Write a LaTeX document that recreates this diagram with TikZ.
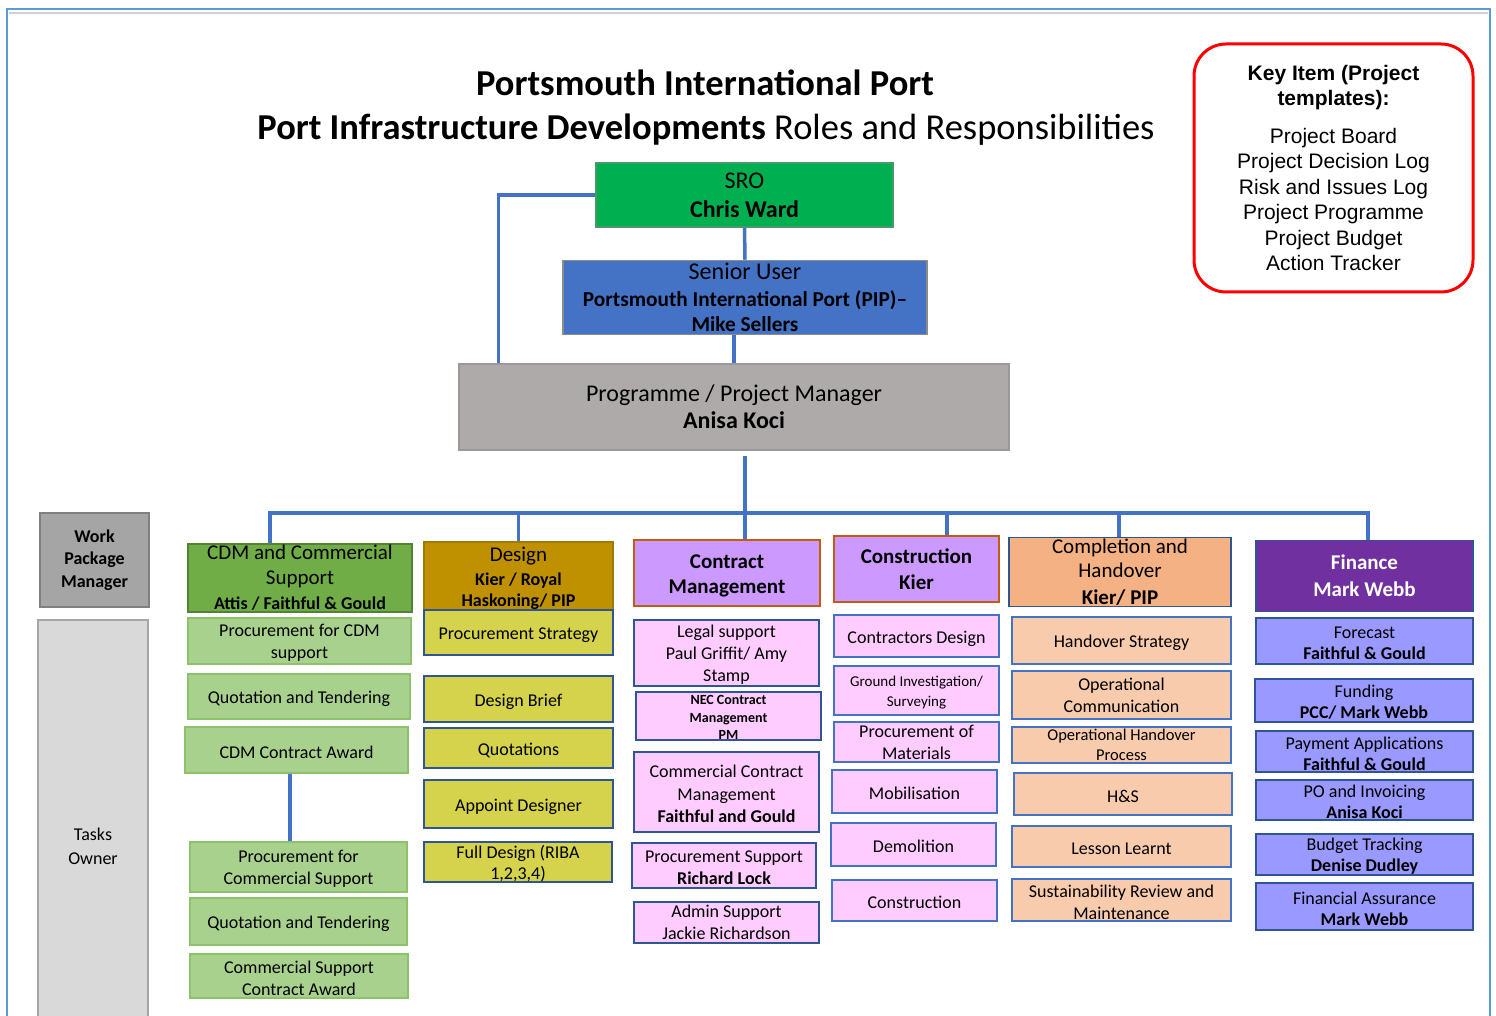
\documentclass[tikz,border=0pt]{standalone}
\usepackage{fontspec}
\setmainfont{Carlito}
\newfontfamily\keyfont{Liberation Sans}
\usepackage{tikz}

\definecolor{linkblue}{HTML}{4472C4}
\definecolor{frameblue}{HTML}{5B9BD5}
\definecolor{darkblue}{HTML}{2F5597}
\definecolor{srogreen}{HTML}{00B050}
\definecolor{pmgrey}{HTML}{AEAAAA}
\definecolor{wpmgrey}{HTML}{A5A5A5}
\definecolor{ownergrey}{HTML}{D9D9D9}
\definecolor{cdmgreen}{HTML}{70AD47}
\definecolor{cdmlight}{HTML}{A9D18E}
\definecolor{cdmline}{HTML}{8CC36A}
\definecolor{designgold}{HTML}{BF9000}
\definecolor{designyellow}{HTML}{D5D24B}
\definecolor{lilac}{HTML}{CC99FF}
\definecolor{rust}{HTML}{C55A11}
\definecolor{taskpink}{HTML}{FFCCFF}
\definecolor{peach}{HTML}{F4B183}
\definecolor{peachlight}{HTML}{F8CBAD}
\definecolor{finpurple}{HTML}{7030A0}
\definecolor{periwinkle}{HTML}{9999FF}

% pushes the first line of a box down a little
\newcommand{\padtop}{\rule{0pt}{0.92em}}

\begin{document}
\begin{tikzpicture}[x=1pt,y=-1pt,
    link/.style={draw=linkblue,line width=3.5pt},
    box/.style={draw,line width=1.5pt,align=center,inner sep=0pt},
    headbox/.style={box,font=\fontsize{21}{25}\selectfont},
    taskbox/.style={box,line width=1.3pt,font=\fontsize{18}{22}\selectfont,
                    execute at begin node={\rule{0pt}{0.95em}}}]
    \useasboundingbox (0,0) rectangle (1496,1016);
    \fill[white] (0,0) rectangle (1496,1016);
    \draw[frameblue,line width=1.5pt] (7,9) rectangle (1490,1040);
    \draw[black!18,line width=2pt] (9,13) -- (1488,13);

    % title
    \node[anchor=base,font=\fontsize{36.5}{44}\selectfont\bfseries] (title1) at (705,96) {Portsmouth International Port};
    \node[anchor=base,font=\fontsize{36.5}{44}\selectfont] (title2) at (706,140) {\textbf{Port Infrastructure Developments} Roles and Responsibilities};

    % key items
    \node[draw=red,line width=3pt,rounded corners=32pt,align=center,inner sep=0pt,
          minimum width=279pt,minimum height=248pt,font=\keyfont\fontsize{21}{25.5}\selectfont] (key) at (1333.5,168)
        {\textbf{Key Item (Project}\\\textbf{templates):}\\[12pt]Project Board\\Project Decision Log\\Risk and Issues Log\\Project Programme\\Project Budget\\Action Tracker};

    % top of the tree
    \node[box,fill=srogreen,draw=srogreen!60!black!70,font=\fontsize{24}{29}\selectfont,
          minimum width=297pt,minimum height=64pt] (sro) at (744.5,195) {SRO\\\bfseries Chris Ward};
    \node[box,fill=linkblue,draw=black!45,font=\fontsize{21.3}{25}\selectfont\bfseries,
          minimum width=364pt,minimum height=74pt] (su) at (745,297.5)
        {\fontsize{24}{25}\selectfont\mdseries Senior User\\[2pt]Portsmouth International Port (PIP)--\\Mike Sellers};
    \node[box,fill=pmgrey,draw=black!40,font=\fontsize{24}{27.5}\selectfont,
          minimum width=550pt,minimum height=86pt] (pm) at (734,407) {Programme / Project Manager\\\bfseries Anisa Koci};

    % row labels
    \node[box,fill=wpmgrey,draw=black!50,font=\fontsize{18}{22.5}\selectfont\bfseries,
          minimum width=109pt,minimum height=94pt] (wpm) at (94.5,560) {Work\\Package\\Manager};
    \node[box,fill=ownergrey,draw=black!35,font=\fontsize{18}{24}\selectfont,
          minimum width=110pt,minimum height=452pt] (owner) at (93,846) {Tasks\\Owner};

    % work package managers
    \node[headbox,fill=cdmgreen,draw=cdmgreen!75!black,minimum width=224pt,minimum height=68pt] (cdm) at (300,578)
        {CDM and Commercial\\Support\\\fontsize{18}{21}\selectfont\bfseries Attis / Faithful \& Gould};
    \node[headbox,fill=designgold,draw=designgold!85!black,minimum width=189pt,minimum height=68pt] (des) at (518.5,576)
        {\padtop Design\\[-1pt]\fontsize{18}{21}\selectfont\bfseries Kier / Royal\\[-4pt]\fontsize{18}{21}\selectfont\bfseries Haskoning/ PIP};
    \node[headbox,fill=lilac,draw=rust,font=\fontsize{21}{24.5}\selectfont\bfseries,
          minimum width=186pt,minimum height=66pt] (con) at (727,573) {\padtop Contract\\Management};
    \node[headbox,fill=lilac,draw=rust,font=\fontsize{21}{26}\selectfont\bfseries,
          minimum width=165pt,minimum height=66pt] (bld) at (916.5,569) {Construction\\Kier};
    \node[headbox,fill=peach,draw=darkblue,font=\fontsize{21}{24}\selectfont,
          minimum width=222pt,minimum height=69pt] (cmp) at (1120,572) {Completion and\\Handover\\[3pt]\bfseries Kier/ PIP};
    \node[headbox,fill=finpurple,draw=darkblue,text=white,font=\fontsize{21}{27}\selectfont\bfseries,
          minimum width=217pt,minimum height=71pt] (fin) at (1364.5,576) {Finance\\Mark Webb};

    % CDM and commercial tasks
    \node[taskbox,fill=cdmlight,draw=cdmline,minimum width=223pt,minimum height=46pt] (cdm1) at (299.5,641) {\padtop Procurement for CDM\\support};
    \node[taskbox,fill=cdmlight,draw=cdmline,minimum width=222pt,minimum height=45pt] (cdm2) at (299,696.5) {Quotation and Tendering};
    \node[taskbox,fill=cdmlight,draw=cdmline,minimum width=223pt,minimum height=46pt] (cdm3) at (296.5,750) {CDM Contract Award};
    \node[taskbox,fill=cdmlight,draw=cdmline,minimum width=217pt,minimum height=50pt] (cdm4) at (298.5,867) {\padtop Procurement for\\Commercial Support};
    \node[taskbox,fill=cdmlight,draw=cdmline,minimum width=217pt,minimum height=47pt] (cdm5) at (298.5,921.5) {Quotation and Tendering};
    \node[taskbox,fill=cdmlight,draw=cdmline,minimum width=218pt,minimum height=44pt] (cdm6) at (299,976) {\padtop Commercial Support\\Contract Award};

    % design tasks
    \node[taskbox,fill=designyellow,draw=darkblue,minimum width=189pt,minimum height=45pt] (des1) at (518.5,632.5) {Procurement Strategy};
    \node[taskbox,fill=designyellow,draw=darkblue,minimum width=189pt,minimum height=46pt] (des2) at (518.5,699) {Design Brief};
    \node[taskbox,fill=designyellow,draw=darkblue,minimum width=189pt,minimum height=40pt] (des3) at (518.5,748) {Quotations};
    \node[taskbox,fill=designyellow,draw=darkblue,minimum width=189pt,minimum height=48pt] (des4) at (518.5,804) {Appoint Designer};
    \node[taskbox,fill=designyellow,draw=darkblue,font=\fontsize{18}{20.5}\selectfont,
          minimum width=188pt,minimum height=40pt] (des5) at (518,862) {\padtop Full Design (RIBA\\1,2,3,4)};

    % contract management tasks
    \node[taskbox,fill=taskpink,draw=darkblue,font=\fontsize{18}{22}\selectfont,
          minimum width=185pt,minimum height=66pt] (con1) at (726.5,653) {\padtop Legal support\\Paul Griffit/ Amy\\Stamp};
    \node[taskbox,fill=taskpink,draw=darkblue,font=\fontsize{14}{17.5}\selectfont\bfseries,
          minimum width=185pt,minimum height=48pt] (con2) at (728.5,716) {\padtop NEC Contract\\Management\\PM};
    \node[taskbox,fill=taskpink,draw=darkblue,font=\fontsize{18}{22.5}\selectfont,
          minimum width=185pt,minimum height=80pt] (con3) at (726.5,792) {\padtop Commercial Contract\\Management\\\bfseries Faithful and Gould};
    \node[taskbox,fill=taskpink,draw=darkblue,minimum width=184pt,minimum height=45pt] (con4) at (724,865.5) {\padtop Procurement Support\\\bfseries Richard Lock};
    \node[taskbox,fill=taskpink,draw=darkblue,minimum width=185pt,minimum height=41pt] (con5) at (726.5,922.5) {Admin Support\\Jackie Richardson};

    % construction tasks
    \node[taskbox,fill=taskpink,draw=linkblue,minimum width=165pt,minimum height=42pt] (bld1) at (916.5,636) {Contractors Design};
    \node[taskbox,fill=taskpink,draw=linkblue,font=\fontsize{15}{20}\selectfont,
          minimum width=165pt,minimum height=49pt] (bld2) at (916.5,690.5) {\padtop Ground Investigation/\\Surveying};
    \node[taskbox,fill=taskpink,draw=linkblue,minimum width=165pt,minimum height=40pt] (bld3) at (916.5,742) {Procurement of\\Materials};
    \node[taskbox,fill=taskpink,draw=linkblue,minimum width=165pt,minimum height=43pt] (bld4) at (914.5,791.5) {Mobilisation};
    \node[taskbox,fill=taskpink,draw=linkblue,minimum width=165pt,minimum height=43pt] (bld5) at (913.5,844.5) {Demolition};
    \node[taskbox,fill=taskpink,draw=linkblue,minimum width=165pt,minimum height=41pt] (bld6) at (914.5,900.5) {Construction};

    % completion and handover tasks
    \node[taskbox,fill=peachlight,draw=linkblue,minimum width=219pt,minimum height=47pt] (cmp1) at (1121.5,640.5) {Handover Strategy};
    \node[taskbox,fill=peachlight,draw=linkblue,minimum width=219pt,minimum height=48pt] (cmp2) at (1121.5,695) {Operational\\Communication};
    \node[taskbox,fill=peachlight,draw=linkblue,font=\fontsize{16.5}{20}\selectfont,
          minimum width=219pt,minimum height=36pt] (cmp3) at (1121.5,745) {Operational Handover\\Process};
    \node[taskbox,fill=peachlight,draw=linkblue,minimum width=218pt,minimum height=42pt] (cmp4) at (1123,794) {H\&S};
    \node[taskbox,fill=peachlight,draw=linkblue,minimum width=219pt,minimum height=41pt] (cmp5) at (1121.5,846.5) {Lesson Learnt};
    \node[taskbox,fill=peachlight,draw=linkblue,minimum width=219pt,minimum height=42pt] (cmp6) at (1121.5,900) {\padtop Sustainability Review and\\Maintenance};

    % finance tasks
    \node[taskbox,fill=periwinkle,draw=darkblue,font=\fontsize{18}{21}\selectfont,
          minimum width=217pt,minimum height=46pt] (fin1) at (1364.5,641) {\padtop Forecast\\\bfseries Faithful \& Gould};
    \node[taskbox,fill=periwinkle,draw=darkblue,font=\fontsize{18}{21}\selectfont,
          minimum width=218pt,minimum height=43pt] (fin2) at (1364,700.5) {\padtop Funding\\\bfseries PCC/ Mark Webb};
    \node[taskbox,fill=periwinkle,draw=darkblue,font=\fontsize{18}{21}\selectfont,
          minimum width=217pt,minimum height=41pt] (fin3) at (1364.5,751.5) {\padtop Payment Applications\\\bfseries Faithful \& Gould};
    \node[taskbox,fill=periwinkle,draw=darkblue,font=\fontsize{18}{21}\selectfont,
          minimum width=217pt,minimum height=40pt] (fin4) at (1364.5,800) {\padtop PO and Invoicing\\\bfseries Anisa Koci};
    \node[taskbox,fill=periwinkle,draw=darkblue,font=\fontsize{18}{21}\selectfont,
          minimum width=217pt,minimum height=41pt] (fin5) at (1364.5,854.5) {\padtop Budget Tracking\\\bfseries Denise Dudley};
    \node[taskbox,fill=periwinkle,draw=darkblue,font=\fontsize{18}{21}\selectfont,
          minimum width=217pt,minimum height=47pt] (fin6) at (1364.5,906.5) {\padtop Financial Assurance\\\bfseries Mark Webb};

    % connectors
    \coordinate (bus) at (745,513);
    \draw[link] (sro.south) -- (su.north);
    \draw[link] (pm.north |- su.south) -- (pm.north);
    \draw[link] (sro.west) -| ([xshift=40pt]pm.north west);
    \draw[link] ([yshift=-5pt]pm.south -| bus) -- (bus);
    \draw[link] ([xshift=-30pt]cdm.north) |- (bus) -| ([xshift=3.5pt]fin.north);
    \draw[link] (bus) -- (bus |- con.north);
    \foreach \n/\dx in {des/0,bld/30.5,cmp/-1} {
        \draw[link] ([xshift=\dx pt]\n.north) |- (bus);
    }
    \draw[link] ([xshift=-6.5pt]cdm3.south) -- ([xshift=-8.5pt]cdm4.north);
\end{tikzpicture}
\end{document}
